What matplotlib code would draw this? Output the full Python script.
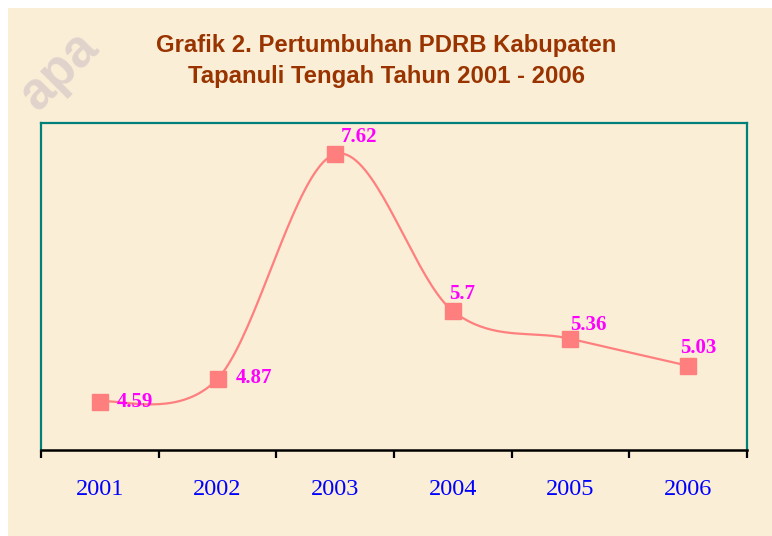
import numpy as np
import matplotlib.pyplot as plt
from matplotlib.patches import Rectangle

# Data
years = ["2001", "2002", "2003", "2004", "2005", "2006"]
growth = [4.59, 4.87, 7.62, 5.70, 5.36, 5.03]
labels = ["4.59", "4.87", "7.62", "5.7", "5.36", "5.03"]

TITLE_COLOR = "#993300"
LINE_COLOR = "#FF7F7F"
LABEL_COLOR = "#FF00FF"
TICK_COLOR = "#0000FF"
BORDER_COLOR = "#00807A"
PAPER = "#FAEED6"

# label offsets in pixels (dx, dy) relative to marker
offsets = [(35, 0), (37, 1), (24, 17), (9, 17), (18, 14), (10, 18)]


def smooth_curve(xs, ys, n=40):
    # Bezier smoothing the way spreadsheet charts do it
    pts = np.column_stack([xs, ys]).astype(float)
    ext = np.vstack([pts[0], pts, pts[-1]])
    out = []
    for i in range(len(pts) - 1):
        p0, p1, p2, p3 = ext[i], ext[i + 1], ext[i + 2], ext[i + 3]
        c1 = p1 + (p2 - p0) / 6.0
        c2 = p2 - (p3 - p1) / 6.0
        t = np.linspace(0, 1, n)[:, None]
        seg = ((1 - t) ** 3) * p1 + 3 * ((1 - t) ** 2) * t * c1 \
            + 3 * (1 - t) * t ** 2 * c2 + t ** 3 * p2
        out.append(seg if i == 0 else seg[1:])
    seg = np.vstack(out)
    return seg[:, 0], seg[:, 1]


fig = plt.figure(figsize=(7.72, 5.36), dpi=100, facecolor="white")
fig.patches.append(Rectangle((8 / 772, 0), 1, 1 - 8 / 536, transform=fig.transFigure,
                             facecolor=PAPER, edgecolor="none", zorder=-5))

# faint watermark in the corner
fig.text(38 / 772, 1 - 112 / 536, "apa", rotation=45, rotation_mode="anchor",
         fontsize=37, fontweight="bold", family="Liberation Sans", color="#DDD0CA",
         alpha=0.9, ha="left", va="baseline", zorder=-4)

fig.text(0.5, 1 - 52 / 536, "Grafik 2. Pertumbuhan PDRB Kabupaten", ha="center",
         va="baseline", fontsize=17.2, fontweight="bold", family="Liberation Sans",
         color=TITLE_COLOR)
fig.text(0.5, 1 - 83 / 536, "Tapanuli Tengah Tahun 2001 - 2006", ha="center",
         va="baseline", fontsize=17.2, fontweight="bold", family="Liberation Sans",
         color=TITLE_COLOR)

ax = fig.add_axes([41 / 772, 1 - 450 / 536, (747 - 41) / 772, (450 - 123) / 536])
ax.set_facecolor("none")

x = np.arange(1, len(years) + 1)
sx, sy = smooth_curve(x, growth)
ax.plot(sx, sy, color=LINE_COLOR, linewidth=1.6, zorder=2)
ax.plot(x, growth, linestyle="none", marker="s", markersize=11,
        color=LINE_COLOR, zorder=3)

for xi, yi, lab, (dx, dy) in zip(x, growth, labels, offsets):
    ax.annotate(lab, (xi, yi), xytext=(dx * 0.72, dy * 0.72), textcoords="offset points",
                ha="center", va="center", fontsize=15, fontweight="bold",
                family="Liberation Serif", color=LABEL_COLOR, zorder=4)

ax.set_xlim(0.5, len(years) + 0.5)
ax.set_ylim(4, 8)
ax.set_yticks([])
ax.set_xticks(np.arange(0.5, len(years) + 1))
ax.set_xticklabels([])
ax.set_xticks(x, minor=True)
ax.set_xticklabels(years, minor=True, fontsize=17.5, family="Liberation Serif",
                   color=TICK_COLOR)
ax.tick_params(axis="x", which="major", direction="out", length=6, width=1.6, color="black")
ax.tick_params(axis="x", which="minor", length=0, pad=21)

for side in ["left", "top", "right"]:
    ax.spines[side].set_color(BORDER_COLOR)
    ax.spines[side].set_linewidth(1.6)
ax.spines["bottom"].set_color("black")
ax.spines["bottom"].set_linewidth(1.8)

fig.savefig("out.png", dpi=100, facecolor=fig.get_facecolor())
